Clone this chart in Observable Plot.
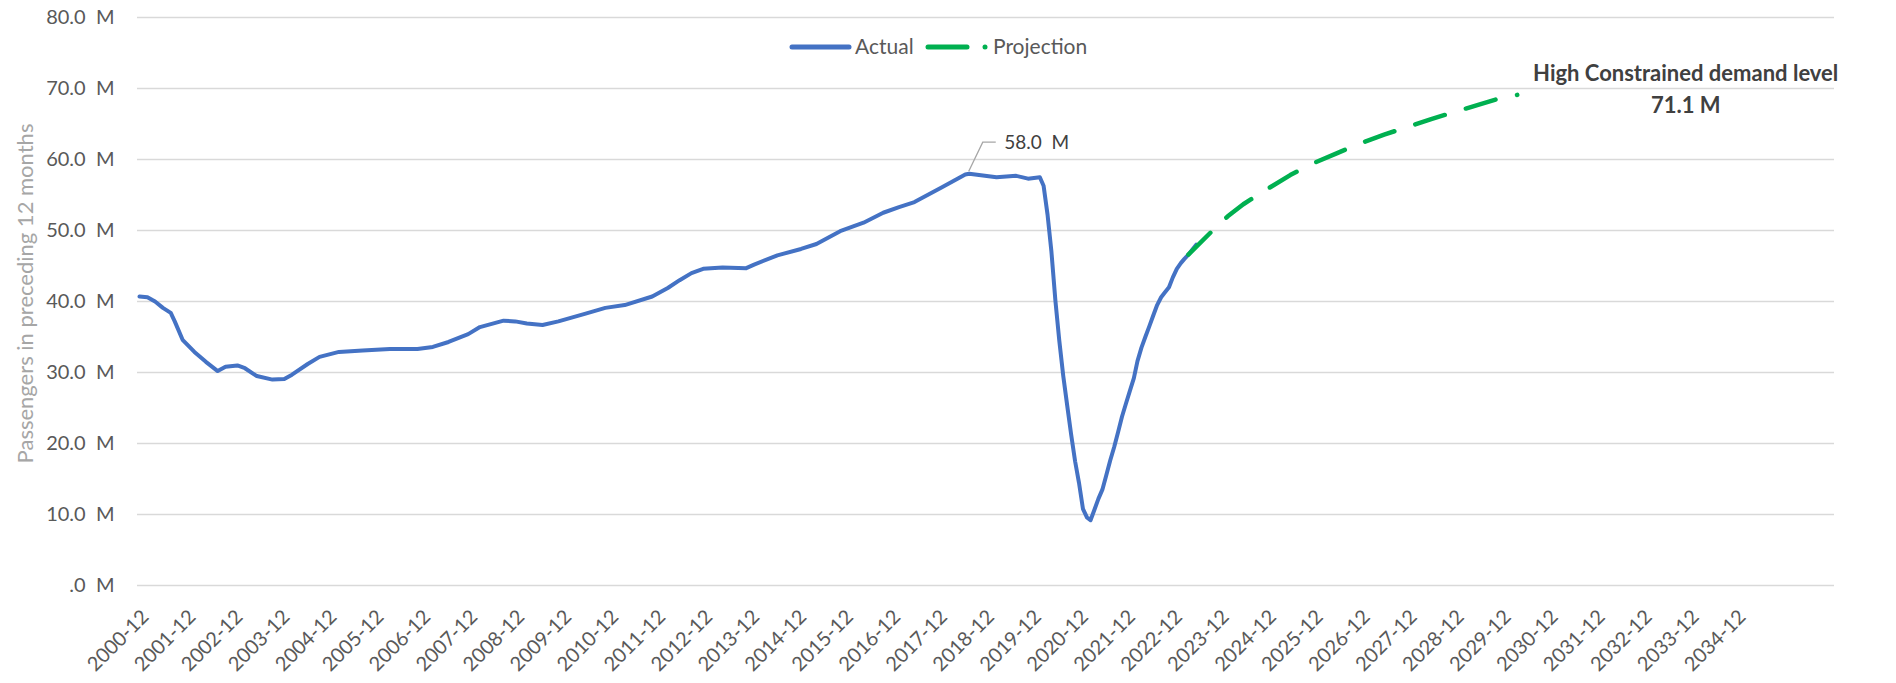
<!DOCTYPE html>
<html><head><meta charset="utf-8">
<script src="https://cdn.jsdelivr.net/npm/d3@7"></script>
<script src="https://cdn.jsdelivr.net/npm/@observablehq/plot@0.6"></script>
<style>
html,body{margin:0;padding:0;background:#fff;}
#wrap{position:relative;width:1896px;height:683px;font-family:Lato, sans-serif;overflow:hidden;}
#legend{position:absolute;top:0;left:0;width:1896px;height:0;}
.lg{position:absolute;font-size:21px;color:#595959;line-height:24px;white-space:nowrap;}
</style></head><body>
<div id="wrap"><div id="chart"></div><div id="legend"></div></div>
<script>
// ---- data ----
const actualMonths = ["2000-12","2001-02","2001-04","2001-06","2001-08","2001-09","2001-11","2002-02","2002-05","2002-08","2002-10","2003-01","2003-03","2003-06","2003-10","2004-01","2004-03","2004-07","2004-10","2005-03","2005-09","2006-04","2006-11","2007-03","2007-07","2007-12","2008-03","2008-09","2008-12","2009-03","2009-07","2009-11","2010-06","2010-11","2011-04","2011-11","2012-03","2012-06","2012-09","2012-12","2013-05","2013-11","2014-01","2014-07","2015-01","2015-05","2015-11","2016-05","2016-10","2017-02","2017-06","2018-01","2018-07","2018-08","2019-03","2019-08","2019-11","2020-02","2020-03","2020-04","2020-05","2020-06","2020-07","2020-08","2020-09","2020-10","2020-11","2020-12","2021-01","2021-02","2021-03","2021-04","2021-05","2021-06","2021-07","2021-08","2021-09","2021-10","2021-11","2021-12","2022-01","2022-02","2022-03","2022-04","2022-05","2022-06","2022-07","2022-08","2022-09","2022-10","2022-11","2022-12","2023-01","2023-02","2023-03","2023-04","2023-05","2023-06"];
const actualValues = [40.7,40.6,40.0,39.1,38.4,37.2,34.6,32.9,31.5,30.2,30.8,31.0,30.6,29.5,29.0,29.1,29.7,31.2,32.2,32.9,33.1,33.3,33.3,33.6,34.3,35.4,36.4,37.3,37.2,36.9,36.7,37.2,38.3,39.1,39.5,40.7,41.9,43.0,44.0,44.6,44.8,44.7,45.2,46.5,47.4,48.1,49.9,51.1,52.5,53.3,54.0,56.1,57.9,58.0,57.5,57.7,57.3,57.5,56.3,52.2,47.0,40.1,34.5,29.5,25.3,21.3,17.5,14.5,10.8,9.6,9.2,10.7,12.2,13.5,15.5,17.6,19.5,21.6,23.8,25.6,27.4,29.2,31.6,33.5,35.0,36.5,38.0,39.5,40.6,41.3,42.0,43.4,44.6,45.4,46.0,46.6,47.3,48.0];
const projectionMonths = ["2023-04","2023-10","2024-02","2024-06","2024-12","2025-06","2025-12","2026-06","2026-12","2027-06","2027-12","2028-06","2028-12","2029-06","2029-12","2030-04"];
const projectionValues = [46.6,49.9,52.0,53.7,55.8,57.8,59.5,60.9,62.3,63.5,64.6,65.7,66.7,67.7,68.7,69.1];
const seriesNames = ["Actual","Projection"];
const seriesColors = ["#4472c4","#00b050"];
const yTicks = [0,10,20,30,40,50,60,70,80];
const xTickYears = d3.range(2000, 2035);
const peakPoint = {month:"2018-08", value:58.0};
const highLevel = {month:"2033-11", value:71.1, label:"High Constrained demand level"};
const yTitle = "Passengers in preceding 12 months";

// ---- build ----
const parse = d3.utcParse("%Y-%m");
const actual = actualMonths.map((m,i)=>({date:parse(m), value:actualValues[i]}));
const projection = projectionMonths.map((m,i)=>({date:parse(m), value:projectionValues[i]}));
const xTicks = xTickYears.map(y => parse(y + "-12"));
const peak = {date:parse(peakPoint.month), value:peakPoint.value};
const high = {date:parse(highLevel.month), value:highLevel.value, label:highLevel.label};
const fmtM = d => (d === 0 ? ".0" : d.toFixed(1)) + "\u00a0\u00a0M";

const chart = Plot.plot({
  width:1896, height:683,
  marginLeft:139, marginRight:62, marginTop:17, marginBottom:98,
  style:{fontFamily:"Lato, sans-serif", background:"#fff", overflow:"visible"},
  x:{type:"utc", domain:[parse("2000-12"), parse("2037-01")]},
  y:{domain:[0,80]},
  marks:[
    Plot.ruleY(yTicks, {stroke:"#d9d9d9", strokeWidth:1.5, insetLeft:-2}),
    Plot.axisY(yTicks, {tickSize:0, tickPadding:25, tickFormat:fmtM, fontSize:20, fill:"#595959", label:null}),
    Plot.axisX(xTicks, {tickSize:0, tickPadding:12, dx:6, dy:16, tickRotate:-45, tickFormat:d3.utcFormat("%Y-%m"), fontSize:20, fill:"#595959", label:null}),
    Plot.line(actual, {x:"date", y:"value", stroke:seriesColors[0], strokeWidth:4, strokeLinejoin:"round", strokeLinecap:"round"}),
    Plot.line(projection, {x:"date", y:"value", stroke:seriesColors[1], strokeWidth:4.5, strokeDasharray:"31,22", strokeLinecap:"round"}),
    Plot.text([peak], {x:"date", y:"value", text:d => fmtM(d.value), dx:35, dy:-31, textAnchor:"start", fontSize:19, fill:"#404040"}),
    Plot.text([high], {x:"date", y:"value", text:"label", dy:-7, fontWeight:"bold", fontSize:22, fill:"#404040"}),
    Plot.text([high], {x:"date", y:"value", text:d => d.value.toFixed(1) + " M", dy:25, fontWeight:"bold", fontSize:22, fill:"#404040"}),
    Plot.text([yTitle], {frameAnchor:"left", textAnchor:"middle", rotate:-90, dx:-114, dy:-8, fontSize:22, fill:"#a6a6a6"})
  ]
});
document.getElementById("chart").appendChild(chart);

// leader line for the peak label, positioned through the plot's scales
const sx = chart.scale("x"), sy = chart.scale("y");
const px = sx.apply(peak.date), py = sy.apply(peak.value);
d3.select(chart).append("path")
  .attr("d", `M${px},${py-2}L${px+14},${py-31}H${px+27}`)
  .attr("fill","none").attr("stroke","#a6a6a6").attr("stroke-width",1.3);

// legend
const lg = d3.select("#legend");
const sw1 = lg.append("svg").attr("class","lg").style("left","788px").style("top","40px").attr("width",66).attr("height",14);
sw1.append("line").attr("x1",4).attr("x2",61).attr("y1",7).attr("y2",7).attr("stroke",seriesColors[0]).attr("stroke-width",5).attr("stroke-linecap","round");
lg.append("div").attr("class","lg").style("left","855px").style("top","34px").text(seriesNames[0]);
const sw2 = lg.append("svg").attr("class","lg").style("left","924px").style("top","40px").attr("width",66).attr("height",14);
sw2.append("line").attr("x1",4).attr("x2",43).attr("y1",7).attr("y2",7).attr("stroke",seriesColors[1]).attr("stroke-width",5).attr("stroke-linecap","round");
sw2.append("circle").attr("cx",61).attr("cy",7).attr("r",2.5).attr("fill",seriesColors[1]);
lg.append("div").attr("class","lg").style("left","993px").style("top","34px").text(seriesNames[1]);
</script>
</body></html>
